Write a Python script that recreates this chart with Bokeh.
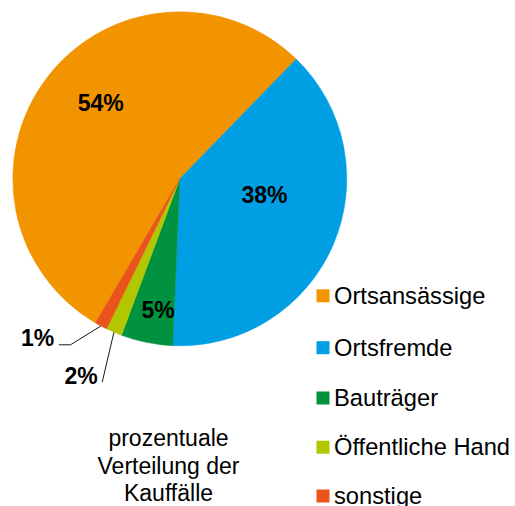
import math
from bokeh.plotting import figure
from bokeh.models import Range1d
from bokeh.core.properties import value
from bokeh.embed import file_html
from bokeh.resources import INLINE

# ---- data ----
categories = ["Ortsansässige", "Ortsfremde", "Bauträger", "Öffentliche Hand", "sonstige"]
shares = [53.85, 38.4, 5.0, 1.55, 1.2]
colors = ["#F29400", "#009FE3", "#00923F", "#B3C700", "#E8541C"]
title_lines = ["prozentuale", "Verteilung der", "Kauffälle"]

# ---- layout (reference pixel coords -> data coords) ----
W, H = 515, 506
def X(px): return px
def Y(py): return H - py

cx, cy, R = 179.3, 178.3, 167.0
end_of_first_cw = 44.2  # clockwise degrees from 12 o'clock where first slice ends

p = figure(width=W, height=H, output_backend="svg", toolbar_location=None,
           x_range=Range1d(0, W), y_range=Range1d(0, H),
           min_border=0, outline_line_color=None)
p.axis.visible = False
p.grid.visible = False
p.background_fill_color = "white"
p.border_fill_color = "white"

total = sum(shares)
cw = end_of_first_cw - 360 * shares[0] / total
starts, ends, mids = [], [], []
for v in shares:
    a0 = cw
    a1 = cw + 360 * v / total
    starts.append(math.radians(90 - a1))
    ends.append(math.radians(90 - a0))
    mids.append((a0 + a1) / 2)
    cw = a1

p.wedge(x=[X(cx)] * len(shares), y=[Y(cy)] * len(shares), radius=R,
        start_angle=starts, end_angle=ends, direction="anticlock",
        fill_color=colors, line_color=colors, line_width=0.5)

# percentage labels
label_pos = [(100.3, 102.4), (264, 194), (157.5, 309), (80.5, 375), (37, 337)]
labels = [f"{v:.0f}%" for v in shares]
p.text(x=[X(a) for a, b in label_pos], y=[Y(b) for a, b in label_pos], text=labels,
       text_font=value("Liberation Sans"), text_font_style="bold",
       text_font_size="23px", text_align="center", text_baseline="middle",
       text_color="black")

def rim(cwdeg, rr=R):
    t = math.radians(cwdeg)
    return cx + rr * math.sin(t), cy - rr * math.cos(t)

# leader line for "sonstige" (index 4)
ex, ey = rim(mids[4])
p.line([X(58.3), X(70), X(ex)], [Y(344.3), Y(344.3), Y(ey)], line_color="#1a1a1a", line_width=1)
# leader line for "Öffentliche Hand" (index 3)
ex, ey = rim(mids[3])
p.line([X(101.7), X(ex)], [Y(381.7), Y(ey)], line_color="#1a1a1a", line_width=1)

# legend
leg_y = [295.3, 347.2, 397.5, 446.7, 495.5]
p.rect(x=[X(322.5)] * 5, y=[Y(v) for v in leg_y], width=13, height=13,
       fill_color=colors, line_color=None)
p.text(x=[X(333.5)] * 5, y=[Y(v) for v in leg_y], text=categories,
       text_font=value("Liberation Sans"), text_font_size="23.7px",
       text_align="left", text_baseline="middle", text_color="black")

# caption
cap_mid = [437.5, 465.0, 492.5]
p.text(x=[X(168)] * 3, y=[Y(v) for v in cap_mid], text=title_lines,
       text_font=value("Liberation Sans"), text_font_size="23px",
       text_align="center", text_baseline="middle", text_color="black")

open("out.html", "w").write(file_html(p, INLINE))
